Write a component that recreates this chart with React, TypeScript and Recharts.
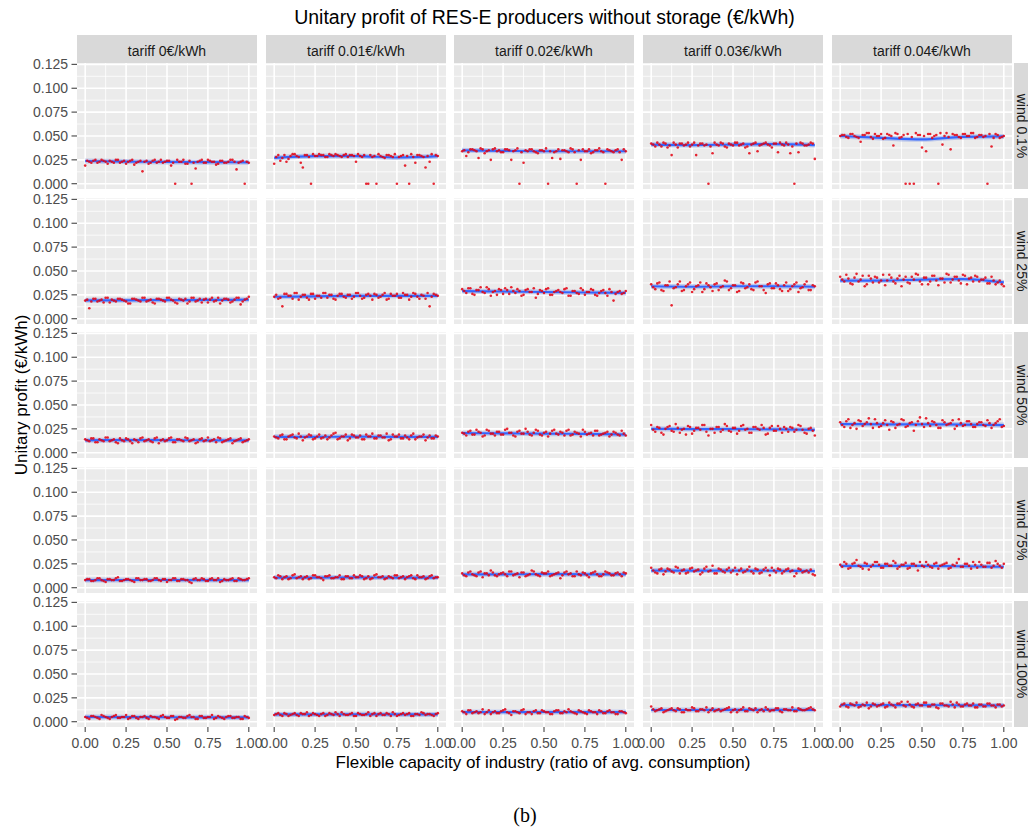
import React from "react";
import {
  ComposedChart,
  Scatter,
  Line,
  XAxis,
  YAxis,
  ReferenceLine,
  ReferenceArea,
} from "recharts";

// facet labels
const tariffs = ["tariff 0€/kWh", "tariff 0.01€/kWh", "tariff 0.02€/kWh", "tariff 0.03€/kWh", "tariff 0.04€/kWh"];
const winds = ["wind 0.1%", "wind 25%", "wind 50%", "wind 75%", "wind 100%"];

// flexible capacity (x) for the sampled runs: grid points and the runs in between
const flexCapacity = [
  0, 0.025, 0.05, 0.075, 0.1, 0.125, 0.15, 0.175, 0.2, 0.225, 0.25, 0.275, 0.3, 0.325, 0.35, 0.375, 0.4, 0.425,
  0.45, 0.475, 0.5, 0.525, 0.55, 0.575, 0.6, 0.625, 0.65, 0.675, 0.7, 0.725, 0.75, 0.775, 0.8, 0.825, 0.85, 0.875,
  0.9, 0.925, 0.95, 0.975, 1,
];
const flexMid = [
  0.0125, 0.0375, 0.0625, 0.0875, 0.1125, 0.1375, 0.1625, 0.1875, 0.2125, 0.2375, 0.2625, 0.2875, 0.3125, 0.3375,
  0.3625, 0.3875, 0.4125, 0.4375, 0.4625, 0.4875, 0.5125, 0.5375, 0.5625, 0.5875, 0.6125, 0.6375, 0.6625, 0.6875,
  0.7125, 0.7375, 0.7625, 0.7875, 0.8125, 0.8375, 0.8625, 0.8875, 0.9125, 0.9375, 0.9625, 0.9875,
];
const smoothX = [0, 0.25, 0.5, 0.75, 1];

const xMajor = [0, 0.25, 0.5, 0.75, 1];
const xMinor = [0.125, 0.375, 0.625, 0.875];
const yMajor = [0, 0.025, 0.05, 0.075, 0.1, 0.125];
const yMinor = [0.0125, 0.0375, 0.0625, 0.0875, 0.1125];

// wind 0.1%
const w01t0 = [0.019,0.023,0.024,0.022,0.025,0.023,0.024,0.022,0.025,0.023,0.021,0.024,0.020,0.023,0.013,0.024,0.022,0.025,0.023,0.022,0.024,0.019,0.000,0.023,0.025,0.021,0.000,0.016,0.024,0.022,0.025,0.023,0.020,0.024,0.022,0.023,0.025,0.015,0.023,0.000,0.022];
const w01t1 = [0.021,0.030,0.027,0.023,0.029,0.031,0.028,0.017,0.030,0.000,0.029,0.031,0.030,0.028,0.030,0.031,0.029,0.030,0.028,0.030,0.023,0.029,0.030,0.000,0.028,0.000,0.029,0.027,0.030,0.028,0.000,0.029,0.019,0.000,0.028,0.030,0.029,0.017,0.023,0.000,0.029];
const w01t2 = [0.034,0.029,0.036,0.035,0.027,0.036,0.034,0.025,0.037,0.035,0.033,0.036,0.025,0.035,0.000,0.022,0.034,0.036,0.033,0.035,0.034,0.000,0.027,0.034,0.026,0.035,0.033,0.036,0.000,0.025,0.034,0.036,0.033,0.035,0.034,0.000,0.035,0.033,0.036,0.025,0.034];
const w01t3 = [0.042,0.039,0.041,0.043,0.038,0.030,0.041,0.042,0.040,0.043,0.041,0.030,0.042,0.040,0.000,0.032,0.041,0.043,0.039,0.042,0.040,0.043,0.041,0.038,0.032,0.042,0.034,0.041,0.043,0.040,0.042,0.033,0.041,0.043,0.032,0.000,0.033,0.042,0.040,0.043,0.026];
const w01t4 = [0.050,0.051,0.048,0.052,0.049,0.044,0.051,0.053,0.047,0.050,0.052,0.048,0.051,0.040,0.052,0.049,0.000,0.000,0.000,0.051,0.038,0.034,0.052,0.050,0.000,0.041,0.053,0.036,0.051,0.049,0.052,0.050,0.053,0.048,0.051,0.049,0.000,0.039,0.052,0.048,0.050];
const w01t0m = [0.024,0.022,0.025,0.023,0.024,0.021,0.023,0.025,0.022,0.024,0.023,0.025,0.022,0.024,0.023,0.021,0.024,0.022,0.025,0.023,0.024,0.022,0.025,0.023,0.021,0.024,0.022,0.023,0.025,0.022,0.024,0.023,0.021,0.024,0.022,0.025,0.023,0.022,0.024,0.023];
const w01t1m = [0.028,0.024,0.030,0.026,0.031,0.029,0.022,0.030,0.028,0.031,0.029,0.030,0.028,0.031,0.029,0.030,0.028,0.031,0.030,0.029,0.031,0.028,0.000,0.030,0.029,0.031,0.028,0.030,0.029,0.031,0.028,0.030,0.029,0.031,0.022,0.030,0.028,0.029,0.031,0.030];
const w01t2m = [0.035,0.033,0.036,0.034,0.037,0.032,0.035,0.036,0.034,0.033,0.036,0.035,0.034,0.037,0.033,0.035,0.036,0.034,0.032,0.035,0.037,0.034,0.033,0.036,0.035,0.034,0.037,0.033,0.035,0.036,0.034,0.032,0.035,0.037,0.033,0.036,0.034,0.035,0.033,0.036];
const w01t3m = [0.041,0.043,0.039,0.042,0.040,0.043,0.038,0.042,0.041,0.039,0.043,0.040,0.042,0.041,0.039,0.043,0.040,0.042,0.038,0.041,0.043,0.040,0.042,0.039,0.041,0.043,0.040,0.042,0.041,0.038,0.042,0.043,0.040,0.041,0.039,0.042,0.043,0.040,0.041,0.042];
const w01t4m = [0.051,0.049,0.052,0.050,0.048,0.051,0.053,0.049,0.052,0.050,0.047,0.052,0.050,0.053,0.048,0.051,0.052,0.049,0.053,0.051,0.050,0.052,0.048,0.051,0.053,0.050,0.049,0.052,0.051,0.048,0.052,0.050,0.053,0.049,0.051,0.050,0.052,0.048,0.051,0.049];

// wind 25%
const w25t0 = [0.019,0.011,0.021,0.018,0.020,0.022,0.017,0.019,0.021,0.020,0.018,0.016,0.021,0.019,0.022,0.018,0.020,0.016,0.021,0.019,0.022,0.020,0.017,0.021,0.019,0.016,0.022,0.018,0.021,0.020,0.017,0.022,0.019,0.016,0.021,0.020,0.018,0.022,0.015,0.020,0.023];
const w25t1 = [0.023,0.021,0.013,0.026,0.024,0.027,0.020,0.025,0.022,0.026,0.021,0.024,0.027,0.022,0.025,0.020,0.026,0.023,0.025,0.021,0.027,0.024,0.022,0.026,0.020,0.025,0.023,0.027,0.021,0.024,0.026,0.022,0.025,0.020,0.027,0.023,0.025,0.021,0.013,0.026,0.024];
const w25t2 = [0.031,0.027,0.032,0.025,0.030,0.028,0.033,0.024,0.029,0.031,0.026,0.030,0.033,0.027,0.029,0.025,0.031,0.028,0.022,0.030,0.027,0.032,0.025,0.029,0.028,0.031,0.024,0.029,0.027,0.032,0.025,0.028,0.030,0.024,0.029,0.027,0.031,0.019,0.028,0.026,0.029];
const w25t3 = [0.036,0.031,0.038,0.029,0.035,0.014,0.033,0.039,0.030,0.036,0.028,0.034,0.038,0.031,0.035,0.029,0.037,0.033,0.040,0.030,0.035,0.028,0.038,0.032,0.036,0.030,0.039,0.034,0.027,0.037,0.032,0.035,0.029,0.038,0.031,0.036,0.028,0.033,0.039,0.030,0.034];
const w25t4 = [0.044,0.039,0.042,0.036,0.047,0.041,0.034,0.045,0.038,0.043,0.040,0.035,0.046,0.039,0.042,0.034,0.044,0.037,0.041,0.046,0.036,0.043,0.039,0.045,0.035,0.042,0.047,0.038,0.044,0.040,0.046,0.036,0.043,0.045,0.039,0.041,0.037,0.044,0.036,0.040,0.034];
const w25t0m = [0.020,0.018,0.021,0.019,0.017,0.022,0.020,0.018,0.021,0.019,0.016,0.021,0.020,0.018,0.022,0.019,0.017,0.021,0.020,0.018,0.022,0.019,0.016,0.020,0.021,0.018,0.022,0.019,0.017,0.021,0.020,0.018,0.022,0.019,0.021,0.017,0.020,0.022,0.018,0.021];
const w25t1m = [0.025,0.022,0.026,0.024,0.021,0.027,0.023,0.025,0.020,0.026,0.024,0.022,0.027,0.025,0.021,0.024,0.026,0.022,0.025,0.023,0.027,0.021,0.025,0.024,0.026,0.022,0.025,0.020,0.026,0.024,0.022,0.027,0.025,0.023,0.026,0.021,0.024,0.027,0.023,0.025];
const w25t2m = [0.029,0.032,0.026,0.030,0.033,0.027,0.031,0.028,0.025,0.030,0.032,0.026,0.029,0.031,0.024,0.030,0.028,0.032,0.026,0.029,0.031,0.025,0.028,0.030,0.027,0.032,0.024,0.029,0.026,0.030,0.028,0.031,0.025,0.027,0.030,0.024,0.028,0.026,0.029,0.027];
const w25t3m = [0.033,0.037,0.030,0.035,0.039,0.032,0.036,0.029,0.034,0.038,0.031,0.035,0.028,0.037,0.033,0.036,0.030,0.034,0.039,0.032,0.035,0.029,0.037,0.033,0.031,0.038,0.034,0.030,0.036,0.032,0.037,0.031,0.035,0.029,0.034,0.038,0.032,0.036,0.030,0.035];
const w25t4m = [0.041,0.046,0.037,0.043,0.039,0.045,0.036,0.042,0.044,0.038,0.046,0.040,0.043,0.037,0.045,0.041,0.038,0.044,0.047,0.039,0.043,0.036,0.045,0.040,0.042,0.038,0.046,0.041,0.044,0.037,0.045,0.042,0.039,0.044,0.041,0.043,0.037,0.040,0.038,0.036];

// wind 50%
const w50t0 = [0.014,0.012,0.015,0.011,0.013,0.016,0.012,0.014,0.010,0.013,0.015,0.012,0.014,0.011,0.016,0.013,0.012,0.015,0.010,0.014,0.013,0.016,0.011,0.014,0.012,0.015,0.013,0.010,0.014,0.012,0.016,0.013,0.011,0.015,0.012,0.014,0.010,0.013,0.015,0.012,0.014];
const w50t1 = [0.017,0.015,0.019,0.014,0.018,0.016,0.020,0.013,0.017,0.018,0.015,0.019,0.016,0.014,0.018,0.021,0.015,0.017,0.013,0.019,0.016,0.018,0.014,0.017,0.020,0.015,0.018,0.016,0.013,0.019,0.017,0.015,0.018,0.014,0.020,0.016,0.017,0.013,0.018,0.015,0.017];
const w50t2 = [0.021,0.018,0.023,0.019,0.022,0.017,0.024,0.020,0.018,0.022,0.019,0.025,0.021,0.017,0.023,0.020,0.022,0.018,0.024,0.019,0.021,0.017,0.023,0.020,0.022,0.018,0.024,0.019,0.021,0.017,0.022,0.020,0.018,0.023,0.019,0.021,0.017,0.022,0.019,0.023,0.018];
const w50t3 = [0.029,0.022,0.026,0.019,0.027,0.023,0.030,0.021,0.025,0.028,0.020,0.026,0.024,0.029,0.018,0.025,0.027,0.022,0.030,0.023,0.026,0.020,0.028,0.024,0.021,0.027,0.025,0.029,0.019,0.026,0.023,0.028,0.021,0.025,0.027,0.022,0.029,0.024,0.020,0.026,0.018];
const w50t4 = [0.032,0.027,0.035,0.029,0.025,0.033,0.030,0.036,0.026,0.031,0.028,0.034,0.024,0.032,0.029,0.035,0.027,0.031,0.023,0.033,0.030,0.036,0.028,0.032,0.026,0.034,0.029,0.031,0.025,0.035,0.028,0.033,0.030,0.027,0.032,0.029,0.034,0.026,0.031,0.035,0.028];
const w50t0m = [0.013,0.015,0.011,0.014,0.012,0.016,0.013,0.011,0.015,0.012,0.014,0.010,0.013,0.015,0.012,0.014,0.011,0.016,0.013,0.012,0.015,0.011,0.014,0.013,0.016,0.012,0.014,0.011,0.015,0.013,0.012,0.014,0.016,0.011,0.013,0.015,0.012,0.014,0.011,0.013];
const w50t1m = [0.016,0.018,0.014,0.017,0.019,0.015,0.017,0.016,0.019,0.014,0.017,0.015,0.018,0.016,0.020,0.014,0.017,0.019,0.015,0.018,0.016,0.014,0.019,0.017,0.015,0.018,0.016,0.020,0.014,0.017,0.019,0.015,0.016,0.018,0.014,0.017,0.019,0.016,0.015,0.018];
const w50t2m = [0.020,0.022,0.019,0.024,0.021,0.018,0.023,0.020,0.022,0.019,0.024,0.021,0.018,0.022,0.020,0.025,0.019,0.021,0.023,0.018,0.022,0.020,0.024,0.019,0.021,0.023,0.018,0.022,0.020,0.024,0.019,0.021,0.023,0.018,0.020,0.022,0.019,0.021,0.018,0.020];
const w50t3m = [0.024,0.027,0.021,0.025,0.028,0.022,0.026,0.024,0.019,0.027,0.023,0.026,0.029,0.022,0.025,0.021,0.027,0.024,0.028,0.022,0.026,0.023,0.029,0.025,0.021,0.027,0.024,0.026,0.020,0.028,0.023,0.025,0.027,0.022,0.026,0.024,0.028,0.021,0.025,0.023];
const w50t4m = [0.029,0.033,0.026,0.031,0.034,0.028,0.032,0.030,0.035,0.027,0.031,0.029,0.033,0.026,0.030,0.034,0.028,0.032,0.029,0.037,0.027,0.031,0.033,0.029,0.026,0.032,0.030,0.034,0.028,0.031,0.029,0.033,0.027,0.030,0.032,0.028,0.031,0.029,0.033,0.027];

// wind 75%
const w75t0 = [0.008,0.009,0.007,0.010,0.008,0.006,0.009,0.008,0.011,0.007,0.009,0.008,0.006,0.010,0.008,0.009,0.007,0.010,0.008,0.009,0.006,0.008,0.010,0.007,0.009,0.008,0.005,0.010,0.008,0.009,0.007,0.010,0.008,0.006,0.009,0.008,0.010,0.007,0.009,0.008,0.010];
const w75t1 = [0.011,0.013,0.009,0.012,0.010,0.014,0.011,0.009,0.012,0.010,0.013,0.011,0.008,0.012,0.010,0.011,0.013,0.009,0.012,0.010,0.011,0.013,0.009,0.012,0.010,0.014,0.011,0.009,0.012,0.010,0.013,0.011,0.009,0.012,0.010,0.013,0.011,0.009,0.012,0.010,0.011];
const w75t2 = [0.015,0.012,0.017,0.013,0.016,0.011,0.015,0.018,0.013,0.014,0.016,0.012,0.017,0.014,0.011,0.016,0.013,0.018,0.014,0.012,0.015,0.017,0.013,0.015,0.010,0.016,0.014,0.012,0.017,0.013,0.015,0.011,0.016,0.014,0.012,0.017,0.015,0.013,0.016,0.012,0.015];
const w75t3 = [0.021,0.016,0.019,0.014,0.020,0.017,0.022,0.015,0.019,0.016,0.021,0.018,0.014,0.020,0.017,0.023,0.015,0.019,0.016,0.021,0.018,0.014,0.020,0.017,0.022,0.015,0.019,0.016,0.021,0.013,0.018,0.020,0.015,0.019,0.017,0.012,0.020,0.016,0.018,0.019,0.013];
const w75t4 = [0.024,0.027,0.020,0.025,0.029,0.022,0.026,0.019,0.024,0.027,0.021,0.025,0.023,0.028,0.020,0.024,0.026,0.021,0.025,0.018,0.023,0.027,0.022,0.025,0.020,0.024,0.026,0.021,0.023,0.030,0.022,0.025,0.020,0.024,0.027,0.022,0.026,0.021,0.028,0.023,0.025];
const w75t0m = [0.009,0.007,0.008,0.010,0.007,0.009,0.008,0.010,0.007,0.008,0.009,0.007,0.010,0.008,0.009,0.007,0.008,0.010,0.007,0.009,0.008,0.010,0.007,0.009,0.008,0.006,0.009,0.008,0.010,0.007,0.009,0.008,0.010,0.007,0.008,0.009,0.007,0.010,0.008,0.009];
const w75t1m = [0.010,0.012,0.011,0.009,0.013,0.010,0.012,0.011,0.009,0.013,0.011,0.010,0.012,0.013,0.010,0.011,0.009,0.012,0.010,0.013,0.011,0.012,0.010,0.009,0.013,0.011,0.012,0.010,0.011,0.013,0.010,0.012,0.011,0.013,0.009,0.011,0.012,0.010,0.013,0.011];
const w75t2m = [0.013,0.016,0.014,0.012,0.017,0.015,0.013,0.016,0.012,0.015,0.014,0.017,0.013,0.015,0.016,0.012,0.014,0.017,0.013,0.016,0.015,0.012,0.014,0.016,0.013,0.017,0.015,0.012,0.014,0.016,0.013,0.015,0.017,0.012,0.014,0.016,0.013,0.015,0.014,0.016];
const w75t3m = [0.018,0.015,0.020,0.017,0.019,0.016,0.021,0.018,0.015,0.020,0.017,0.019,0.016,0.022,0.018,0.015,0.020,0.017,0.019,0.016,0.021,0.018,0.016,0.019,0.017,0.020,0.015,0.019,0.018,0.021,0.016,0.019,0.017,0.020,0.018,0.015,0.019,0.017,0.016,0.014];
const w75t4m = [0.022,0.025,0.021,0.026,0.023,0.020,0.025,0.022,0.027,0.024,0.021,0.025,0.023,0.026,0.022,0.024,0.020,0.025,0.023,0.027,0.022,0.024,0.021,0.026,0.023,0.025,0.020,0.024,0.026,0.022,0.025,0.023,0.027,0.021,0.024,0.022,0.026,0.023,0.025,0.021];

// wind 100%
const w100t0 = [0.005,0.003,0.006,0.004,0.007,0.005,0.003,0.006,0.004,0.005,0.007,0.004,0.006,0.003,0.005,0.004,0.006,0.005,0.003,0.007,0.004,0.006,0.002,0.005,0.004,0.006,0.005,0.003,0.006,0.004,0.005,0.007,0.004,0.005,0.003,0.006,0.004,0.005,0.003,0.006,0.004];
const w100t1 = [0.007,0.009,0.006,0.008,0.007,0.009,0.006,0.008,0.010,0.007,0.008,0.006,0.009,0.007,0.008,0.010,0.006,0.008,0.007,0.009,0.006,0.008,0.007,0.010,0.008,0.006,0.009,0.007,0.008,0.010,0.006,0.008,0.007,0.009,0.006,0.008,0.010,0.007,0.008,0.006,0.009];
const w100t2 = [0.011,0.008,0.012,0.010,0.009,0.013,0.010,0.008,0.011,0.009,0.012,0.010,0.007,0.011,0.009,0.013,0.010,0.008,0.012,0.009,0.011,0.010,0.008,0.012,0.009,0.011,0.013,0.010,0.008,0.011,0.009,0.012,0.010,0.008,0.011,0.009,0.012,0.010,0.008,0.011,0.009];
const w100t3 = [0.016,0.011,0.013,0.010,0.012,0.014,0.011,0.013,0.010,0.012,0.015,0.011,0.013,0.012,0.010,0.014,0.012,0.011,0.013,0.015,0.012,0.010,0.013,0.011,0.014,0.012,0.010,0.013,0.015,0.011,0.012,0.014,0.010,0.013,0.012,0.011,0.014,0.012,0.013,0.015,0.012];
const w100t4 = [0.016,0.019,0.015,0.018,0.020,0.016,0.017,0.014,0.019,0.016,0.018,0.015,0.020,0.017,0.019,0.021,0.016,0.018,0.015,0.019,0.017,0.020,0.016,0.018,0.014,0.019,0.017,0.021,0.015,0.018,0.016,0.019,0.017,0.015,0.018,0.016,0.019,0.017,0.015,0.018,0.017];
const w100t0m = [0.004,0.006,0.005,0.003,0.006,0.004,0.005,0.007,0.004,0.005,0.003,0.006,0.004,0.005,0.006,0.003,0.005,0.004,0.006,0.005,0.004,0.006,0.003,0.005,0.004,0.007,0.005,0.003,0.006,0.004,0.005,0.003,0.006,0.004,0.005,0.006,0.004,0.005,0.003,0.005];
const w100t1m = [0.008,0.007,0.009,0.006,0.008,0.007,0.009,0.008,0.006,0.009,0.007,0.008,0.006,0.009,0.007,0.008,0.010,0.007,0.008,0.006,0.009,0.007,0.008,0.006,0.009,0.008,0.007,0.009,0.006,0.008,0.007,0.009,0.008,0.006,0.008,0.007,0.009,0.008,0.007,0.008];
const w100t2m = [0.010,0.012,0.009,0.011,0.010,0.008,0.012,0.010,0.009,0.011,0.013,0.009,0.011,0.010,0.012,0.008,0.010,0.011,0.009,0.012,0.010,0.008,0.011,0.012,0.009,0.010,0.011,0.009,0.012,0.010,0.008,0.011,0.010,0.012,0.009,0.011,0.010,0.008,0.011,0.010];
const w100t3m = [0.013,0.012,0.014,0.011,0.013,0.012,0.014,0.010,0.013,0.012,0.014,0.011,0.013,0.015,0.012,0.011,0.013,0.012,0.014,0.010,0.013,0.012,0.015,0.011,0.013,0.014,0.012,0.011,0.013,0.012,0.014,0.011,0.013,0.012,0.015,0.011,0.013,0.012,0.014,0.013];
const w100t4m = [0.018,0.016,0.019,0.017,0.015,0.018,0.020,0.016,0.018,0.017,0.019,0.016,0.018,0.015,0.019,0.017,0.021,0.016,0.018,0.017,0.020,0.016,0.018,0.015,0.019,0.017,0.016,0.018,0.020,0.016,0.018,0.017,0.019,0.015,0.018,0.016,0.019,0.017,0.018,0.016];

// smoothed trend (geom_smooth) per facet, at smoothX
const trendW01 = [
  [0.0238, 0.0232, 0.0228, 0.0226, 0.0224],
  [0.027, 0.029, 0.029, 0.0275, 0.029],
  [0.035, 0.0345, 0.034, 0.034, 0.034],
  [0.041, 0.0405, 0.041, 0.0415, 0.0405],
  [0.050, 0.048, 0.0465, 0.049, 0.0495],
];
const trendW25 = [
  [0.0193, 0.0193, 0.0195, 0.0197, 0.020],
  [0.023, 0.0235, 0.024, 0.024, 0.024],
  [0.029, 0.0285, 0.028, 0.0275, 0.027],
  [0.034, 0.0335, 0.034, 0.034, 0.0335],
  [0.040, 0.040, 0.041, 0.0415, 0.038],
];
const trendW50 = [
  [0.013, 0.0132, 0.0132, 0.013, 0.013],
  [0.0167, 0.0167, 0.0168, 0.0167, 0.0166],
  [0.0205, 0.0203, 0.020, 0.0198, 0.019],
  [0.025, 0.0248, 0.0247, 0.0245, 0.024],
  [0.030, 0.0298, 0.0297, 0.0295, 0.029],
];
const trendW75 = [
  [0.008, 0.0081, 0.0081, 0.008, 0.008],
  [0.0107, 0.0107, 0.0108, 0.0107, 0.0107],
  [0.0141, 0.0141, 0.0142, 0.0141, 0.014],
  [0.018, 0.018, 0.018, 0.0178, 0.0175],
  [0.023, 0.023, 0.0228, 0.0225, 0.022],
];
const trendW100 = [
  [0.005, 0.0048, 0.0047, 0.0046, 0.0045],
  [0.0077, 0.0077, 0.0078, 0.0077, 0.0077],
  [0.0101, 0.0101, 0.0102, 0.0101, 0.0101],
  [0.0123, 0.0123, 0.0124, 0.0124, 0.0125],
  [0.0175, 0.0174, 0.0173, 0.0172, 0.017],
];

const profit = [
  [w01t0, w01t1, w01t2, w01t3, w01t4],
  [w25t0, w25t1, w25t2, w25t3, w25t4],
  [w50t0, w50t1, w50t2, w50t3, w50t4],
  [w75t0, w75t1, w75t2, w75t3, w75t4],
  [w100t0, w100t1, w100t2, w100t3, w100t4],
];
const profitMid = [
  [w01t0m, w01t1m, w01t2m, w01t3m, w01t4m],
  [w25t0m, w25t1m, w25t2m, w25t3m, w25t4m],
  [w50t0m, w50t1m, w50t2m, w50t3m, w50t4m],
  [w75t0m, w75t1m, w75t2m, w75t3m, w75t4m],
  [w100t0m, w100t1m, w100t2m, w100t3m, w100t4m],
];
const trend = [trendW01, trendW25, trendW50, trendW75, trendW100];

// layout
const colLeft = [77, 266, 454, 643, 832];
const rowTop = [63, 198, 332, 467, 601];
const PW = 180;
const PH = 126;
const xDomain = [-0.05, 1.05];
const yDomain = [-0.0055, 0.1264];

const FONT = "'Liberation Sans', Arial, sans-serif";
const tickStyle = { fill: "#4D4D4D", fontSize: 14, fontFamily: FONT };

const dot = (p: any) => <circle cx={p.cx} cy={p.cy} r={1.3} fill="#E3000F" fillOpacity={0.85} />;

const Panel = ({ r, c }: { r: number; c: number }) => {
  const isLeft = c === 0;
  const isBottom = r === 4;
  const yw = isLeft ? 77 : 0;
  const xh = isBottom ? 32 : 0;
  const pts = [
    ...flexCapacity.map((x, i) => ({ x, y: profit[r][c][i] })),
    ...flexMid.map((x, i) => ({ x, y: profitMid[r][c][i] })),
  ];
  const fit = smoothX.map((x, i) => ({ x, y: trend[r][c][i] }));
  return (
    <div style={{ position: "absolute", left: colLeft[c] - yw, top: rowTop[r] }}>
      <ComposedChart width={PW + yw} height={PH + xh} margin={{ top: 0, right: 0, bottom: 0, left: 0 }}>
        <XAxis
          type="number"
          dataKey="x"
          domain={xDomain}
          ticks={xMajor}
          interval={0}
          hide={!isBottom}
          height={xh}
          allowDataOverflow
          axisLine={false}
          tickLine={{ stroke: "#333333" }}
          tickSize={5}
          tickMargin={6}
          tick={tickStyle}
          tickFormatter={(v: number) => v.toFixed(2)}
        />
        <YAxis
          type="number"
          dataKey="y"
          domain={yDomain}
          ticks={yMajor}
          interval={0}
          hide={!isLeft}
          width={yw}
          allowDataOverflow
          axisLine={false}
          tickLine={{ stroke: "#333333" }}
          tickSize={5.5}
          tickMargin={3.5}
          tick={tickStyle}
          tickFormatter={(v: number) => v.toFixed(3)}
        />
        <ReferenceArea x1={xDomain[0]} x2={xDomain[1]} y1={yDomain[0]} y2={yDomain[1]} fill="#EBEBEB" fillOpacity={1} stroke="none" />
        {yMinor.map((v) => (
          <ReferenceLine key={"ym" + v} y={v} stroke="#FFFFFF" strokeWidth={0.8} />
        ))}
        {xMinor.map((v) => (
          <ReferenceLine key={"xm" + v} x={v} stroke="#FFFFFF" strokeWidth={0.8} />
        ))}
        {yMajor.map((v) => (
          <ReferenceLine key={"yM" + v} y={v} stroke="#FFFFFF" strokeWidth={1.6} />
        ))}
        {xMajor.map((v) => (
          <ReferenceLine key={"xM" + v} x={v} stroke="#FFFFFF" strokeWidth={1.6} />
        ))}
        <Line data={fit} dataKey="y" type="monotone" stroke="#A7B6EA" strokeOpacity={0.7} strokeWidth={5} dot={false} activeDot={false} isAnimationActive={false} />
        <Line data={fit} dataKey="y" type="monotone" stroke="#3366FF" strokeWidth={2.2} dot={false} activeDot={false} isAnimationActive={false} />
        <Scatter data={pts} dataKey="y" shape={dot} isAnimationActive={false} />
      </ComposedChart>
    </div>
  );
};

const App = () => {
  const cells: React.ReactNode[] = [];
  for (let r = 0; r < 5; r++) for (let c = 0; c < 5; c++) cells.push(<Panel key={r + "-" + c} r={r} c={c} />);
  return (
    <div style={{ position: "absolute", left: 0, top: 0, width: 1028, height: 830, overflow: "hidden", background: "#FFFFFF" }}>
      <style>{".recharts-surface{overflow:visible}.recharts-wrapper{overflow:visible}"}</style>
      {cells}
      <svg width={1028} height={830} style={{ position: "absolute", left: 0, top: 0, pointerEvents: "none" }}>
        <text x={544.5} y={24} textAnchor="middle" fontSize={19.5} fontFamily={FONT} fill="#000">
          Unitary profit of RES-E producers without storage (€/kWh)
        </text>
        {tariffs.map((t, c) => (
          <g key={t}>
            <rect x={colLeft[c]} y={35} width={PW} height={28} fill="#D9D9D9" />
            <text x={colLeft[c] + PW / 2} y={56} textAnchor="middle" fontSize={14} fontFamily={FONT} fill="#1A1A1A">
              {t}
            </text>
          </g>
        ))}
        {winds.map((w, r) => (
          <g key={w}>
            <rect x={1014} y={rowTop[r]} width={20} height={PH} fill="#D9D9D9" />
            <text
              transform={`translate(1017,${rowTop[r] + PH / 2}) rotate(90)`}
              textAnchor="middle"
              fontSize={14}
              fontFamily={FONT}
              fill="#1A1A1A"
            >
              {w}
            </text>
          </g>
        ))}
        <text
          transform="translate(26.5,395) rotate(-90)"
          textAnchor="middle"
          fontSize={17}
          fontFamily={FONT}
          fill="#000"
        >
          Unitary profit (€/kWh)
        </text>
        <text x={543} y={768} textAnchor="middle" fontSize={17} fontFamily={FONT} fill="#000">
          Flexible capacity of industry (ratio of avg. consumption)
        </text>
        <text x={525} y={822} textAnchor="middle" fontSize={20} fontFamily="'Liberation Serif', 'Times New Roman', serif" fill="#000">
          (b)
        </text>
      </svg>
    </div>
  );
};

export default App;
